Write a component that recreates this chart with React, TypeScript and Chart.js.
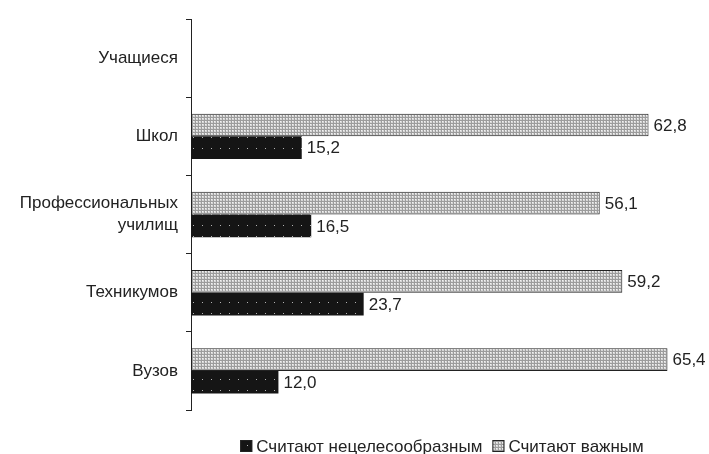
import React, { useEffect, useRef } from 'react';
import { Chart, registerables } from 'chart.js';

Chart.register(...registerables);

const categories: (string | string[])[] = ['Учащиеся', 'Школ', ['Профессиональных', 'училищ'], 'Техникумов', 'Вузов'];
const importantValues: (number | null)[] = [null, 62.8, 56.1, 59.2, 65.4];
const inappropriateValues: (number | null)[] = [null, 15.2, 16.5, 23.7, 12.0];
const seriesImportant = 'Считают важным';
const seriesInappropriate = 'Считают нецелесообразным';
const xMax = 70;

const FONT = "'Liberation Sans', Arial, sans-serif";
const FONT_SIZE = 17;
const TEXT_COLOR = '#222';

function makeLightPattern(): CanvasPattern | string {
  const c = document.createElement('canvas');
  c.width = 3;
  c.height = 3;
  const g = c.getContext('2d');
  if (!g) return '#ccc';
  g.fillStyle = '#d6d6d6';
  g.fillRect(0, 0, 3, 3);
  g.fillStyle = '#9c9c9c';
  g.fillRect(0, 0, 3, 1);
  g.fillRect(0, 0, 1, 3);
  g.fillStyle = '#f2f2f2';
  g.fillRect(1, 1, 1, 1);
  return g.createPattern(c, 'repeat') || '#ccc';
}

function makeDarkPattern(): CanvasPattern | string {
  const c = document.createElement('canvas');
  c.width = 9;
  c.height = 11;
  const g = c.getContext('2d');
  if (!g) return '#111';
  g.fillStyle = '#151515';
  g.fillRect(0, 0, 9, 11);
  g.fillStyle = '#b5b5b5';
  g.fillRect(4, 5, 1, 1);
  return g.createPattern(c, 'repeat') || '#111';
}

const valueLabelPlugin = {
  id: 'valueLabels',
  afterDatasetsDraw(chart: any) {
    const ctx = chart.ctx;
    ctx.save();
    ctx.font = `${FONT_SIZE}px ${FONT}`;
    ctx.fillStyle = TEXT_COLOR;
    ctx.textAlign = 'left';
    ctx.textBaseline = 'middle';
    chart.data.datasets.forEach((ds: any, di: number) => {
      const meta = chart.getDatasetMeta(di);
      meta.data.forEach((el: any, i: number) => {
        const v = ds.data[i];
        if (v === null || v === undefined) return;
        ctx.fillText(Number(v).toFixed(1).replace('.', ','), el.x + 5, el.y + 1);
      });
    });
    ctx.restore();
  },
};

const customLegendPlugin = {
  id: 'customLegend',
  afterDraw(chart: any) {
    const ctx = chart.ctx;
    const area = chart.chartArea;
    ctx.save();
    ctx.font = `${FONT_SIZE}px ${FONT}`;
    ctx.textBaseline = 'middle';
    ctx.textAlign = 'left';
    const order = [1, 0];
    const box = 12;
    const gapBoxText = 4;
    const gapItems = 10;
    const items = order.map((di) => {
      const ds = chart.data.datasets[di];
      return { ds, w: ctx.measureText(ds.label).width };
    });
    const total = items.reduce((s, it) => s + box + gapBoxText + it.w, 0) + gapItems * (items.length - 1);
    let x = (area.left + area.right) / 2 - 4 - total / 2;
    const y = 446;
    items.forEach((it) => {
      ctx.fillStyle = it.ds.backgroundColor;
      ctx.fillRect(x, y - box / 2, box, box);
      ctx.strokeStyle = '#222';
      ctx.lineWidth = 1;
      ctx.strokeRect(x + 0.5, y - box / 2 + 0.5, box - 1, box - 1);
      x += box + gapBoxText;
      ctx.fillStyle = TEXT_COLOR;
      ctx.fillText(it.ds.label, x, y + 1);
      x += it.w + gapItems;
    });
    ctx.restore();
  },
};

export default function App() {
  const canvasRef = useRef<HTMLCanvasElement | null>(null);

  useEffect(() => {
    document.body.style.margin = '0';
    const canvas = canvasRef.current;
    if (!canvas) return;
    const chart = new Chart(canvas, {
      type: 'bar',
      data: {
        labels: categories as any,
        datasets: [
          {
            label: seriesImportant,
            data: importantValues,
            backgroundColor: makeLightPattern() as any,
            borderColor: '#222',
            borderWidth: 1,
            borderSkipped: false,
            categoryPercentage: 0.58,
            barPercentage: 1.0,
          },
          {
            label: seriesInappropriate,
            data: inappropriateValues,
            backgroundColor: makeDarkPattern() as any,
            borderColor: '#151515',
            borderWidth: 0,
            borderSkipped: false,
            categoryPercentage: 0.58,
            barPercentage: 1.0,
          },
        ],
      },
      options: {
        indexAxis: 'y',
        animation: false,
        responsive: true,
        maintainAspectRatio: false,
        layout: { padding: { top: 14, right: 8, bottom: 44, left: 0 } },
        scales: {
          x: { display: false, min: 0, max: xMax },
          y: {
            type: 'category',
            offset: true,
            border: { display: true, color: '#222', width: 1 },
            grid: {
              display: true,
              drawOnChartArea: false,
              drawTicks: true,
              tickLength: 5,
              color: '#222',
              offset: true,
            },
            ticks: {
              color: TEXT_COLOR,
              font: { family: FONT, size: FONT_SIZE, lineHeight: 1.3 },
              padding: 8,
              autoSkip: false,
            },
            afterFit: (scale: any) => {
              scale.width = 191;
            },
          },
        },
        plugins: {
          legend: { display: false },
          tooltip: { enabled: false },
          title: { display: false },
        },
      } as any,
      plugins: [valueLabelPlugin, customLegendPlugin],
    });
    return () => chart.destroy();
  }, []);

  return (
    <div style={{ position: 'relative', width: 709, height: 454 }}>
      <canvas ref={canvasRef} />
    </div>
  );
}
